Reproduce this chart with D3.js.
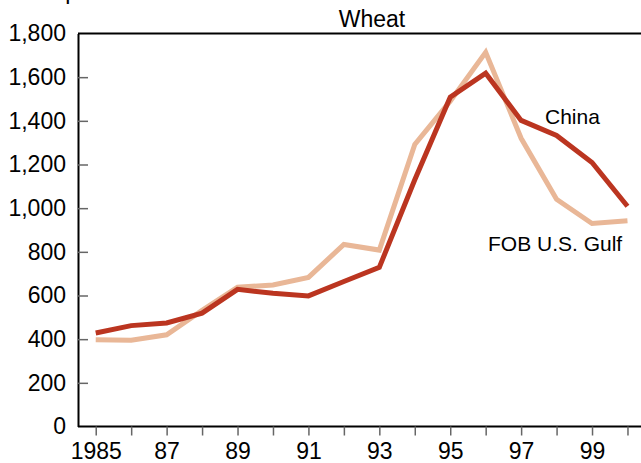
<!DOCTYPE html>
<html>
<head>
<meta charset="utf-8">
<script src="https://cdn.jsdelivr.net/npm/d3@7"></script>
<style>
  body { margin: 0; background: #fff; }
  svg { display: block; font-family: "Liberation Sans", Arial, sans-serif; }
</style>
</head>
<body>
<div id="vis"></div>
<script>
const years = d3.range(1985, 2001);
const china = [428, 462, 474, 519, 628, 610, 598, 664, 729, 1130, 1508, 1618, 1402, 1333, 1209, 1009];
const gulf = [397, 395, 420, 532, 638, 648, 683, 834, 808, 1292, 1490, 1714, 1320, 1041, 930, 942];
const yTicks = [0, 200, 400, 600, 800, 1000, 1200, 1400, 1600, 1800];
const xLabels = { 1985: "1985", 1987: "87", 1989: "89", 1991: "91", 1993: "93", 1995: "95", 1997: "97", 1999: "99" };

const W = 641, H = 463;
const plotLeft = 78, plotTop = 33.5, plotBottom = 426.5;

const svg = d3.select("#vis").append("svg")
    .attr("width", W)
    .attr("height", H);

const x = d3.scaleLinear().domain([1984.5, 2000.5]).range([plotLeft, plotLeft + 16 * 35.45]);
const y = d3.scaleLinear().domain([0, 1800]).range([plotBottom, plotTop]);

// unit label, mostly above the top edge (only the p descender shows)
svg.append("text")
    .attr("x", 6.5)
    .attr("y", -1.5)
    .style("font-size", "23px")
    .text("Yuan per ton");

// title
svg.append("text")
    .attr("x", 372)
    .attr("y", 26.5)
    .attr("text-anchor", "middle")
    .style("font-size", "23px")
    .text("Wheat");

// top frame line
svg.append("line")
    .attr("x1", plotLeft).attr("x2", W)
    .attr("y1", plotTop).attr("y2", plotTop)
    .attr("stroke", "#000").attr("stroke-width", 2);

// y axis, ticks point inward
const yAxis = svg.append("g")
    .attr("transform", `translate(${plotLeft},0)`)
    .call(d3.axisLeft(y).tickValues(yTicks).tickFormat(d3.format(","))
        .tickSizeInner(-10).tickSizeOuter(0).tickPadding(12));
yAxis.select(".domain").attr("stroke", "#000").attr("stroke-width", 2);
yAxis.selectAll(".tick line").attr("stroke", "#666").attr("stroke-width", 1.5);
yAxis.selectAll(".tick text").style("font-size", "23px").attr("fill", "#000")
    .attr("font-family", "Liberation Sans, Arial, sans-serif");
yAxis.selectAll(".tick").filter(d => d === 0 || d === 1800).select("line").remove();

// x axis
const xAxis = svg.append("g")
    .attr("transform", `translate(0,${plotBottom})`)
    .call(d3.axisBottom(x).tickValues(years).tickFormat(d => xLabels[d] || "")
        .tickSizeInner(9).tickSizeOuter(0).tickPadding(7.5));
xAxis.select(".domain").attr("d", `M${plotLeft},0H${W}`).attr("stroke", "#000").attr("stroke-width", 2);
xAxis.selectAll(".tick line").attr("stroke", "#666").attr("stroke-width", 1.5);
xAxis.selectAll(".tick text").style("font-size", "23px").attr("fill", "#000")
    .attr("font-family", "Liberation Sans, Arial, sans-serif");

const line = d3.line()
    .x((d, i) => x(years[i]))
    .y(d => y(d));

svg.append("path")
    .datum(gulf)
    .attr("d", line)
    .attr("fill", "none")
    .attr("stroke", "#e9b797")
    .attr("stroke-width", 5);

svg.append("path")
    .datum(china)
    .attr("d", line)
    .attr("fill", "none")
    .attr("stroke", "#bb3520")
    .attr("stroke-width", 5);

// series labels
svg.append("text")
    .attr("x", 545).attr("y", 124)
    .style("font-size", "21px")
    .text("China");

svg.append("text")
    .attr("x", 488).attr("y", 251)
    .style("font-size", "21px")
    .text("FOB U.S. Gulf");
</script>
</body>
</html>
